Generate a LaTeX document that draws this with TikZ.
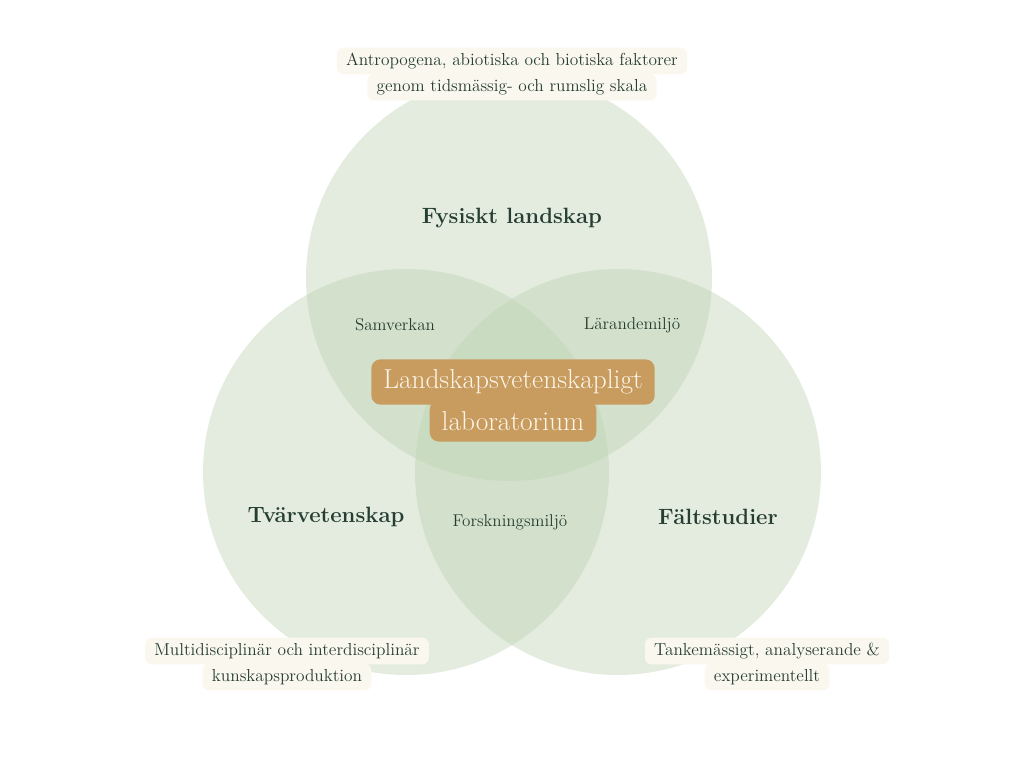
\documentclass[tikz,border=0pt]{standalone}
\usepackage{fontspec}
\definecolor{circlegreen}{RGB}{188,210,178}
\definecolor{textgreen}{RGB}{38,62,50}
\definecolor{notecream}{RGB}{250,247,238}
\definecolor{labgold}{RGB}{200,155,95}
\definecolor{labtext}{RGB}{252,245,232}

\tikzset{every picture/.style={line width=0.75pt}}
\tikzset{
  venn/.style={fill=circlegreen, fill opacity=0.42},
  areatitle/.style={text=textgreen, inner sep=0.75pt, font=\fontsize{16.6}{19}\selectfont\bfseries},
  overlap/.style={text=textgreen, inner sep=0.75pt, font=\fontsize{12.8}{15}\selectfont},
  noteline/.style={fill=notecream, rounded corners=5pt, text=textgreen, inner xsep=7pt, minimum height=20pt, inner ysep=0pt, font=\fontsize{13}{15}\selectfont},
  labline/.style={fill=labgold, rounded corners=7pt, text=labtext, inner xsep=9pt, inner ysep=0pt, font=\fontsize{20.5}{24}\selectfont}
}

\begin{document}
\begin{tikzpicture}[x=0.75pt,y=0.75pt,yscale=-1,xscale=1]
\useasboundingbox (0,0) rectangle (1024,768);

%Circles
\fill [venn] (509,278) circle [radius=152.25pt];
\fill [venn] (406,472) circle [radius=152.25pt];
\fill [venn] (618,472) circle [radius=152.25pt];

% Text Node
\draw (512,61) node [noteline] (top1) {Antropogena, abiotiska och biotiska faktorer};
% Text Node
\draw (512,87) node [noteline] (top2) {genom tidsmässig- och rumslig skala};
% Text Node
\draw (512,218) node [areatitle] (fysiskt) {Fysiskt landskap};
% Text Node
\draw (395,325) node [overlap] (samverkan) {Samverkan};
% Text Node
\draw (632,325) node [overlap] (larande) {Lärandemiljö};
% Text Node
\draw (513,382) node [labline, minimum height=34pt] (lab1) {Landskapsvetenskapligt};
% Text Node
\draw (513,421) node [labline, minimum height=31pt] (lab2) {laboratorium};
% Text Node
\draw (326,517) node [areatitle] (tvar) {Tvärvetenskap};
% Text Node
\draw (510,522) node [overlap] (forskning) {Forskningsmiljö};
% Text Node
\draw (718,517) node [areatitle] (falt) {Fältstudier};
% Text Node
\draw (287,651) node [noteline] (left1) {Multidisciplinär och interdisciplinär};
% Text Node
\draw (287,677) node [noteline] (left2) {kunskapsproduktion};
% Text Node
\draw (767,651) node [noteline] (right1) {Tankemässigt, analyserande \&};
% Text Node
\draw (767,677) node [noteline] (right2) {experimentellt};

\end{tikzpicture}
\end{document}
